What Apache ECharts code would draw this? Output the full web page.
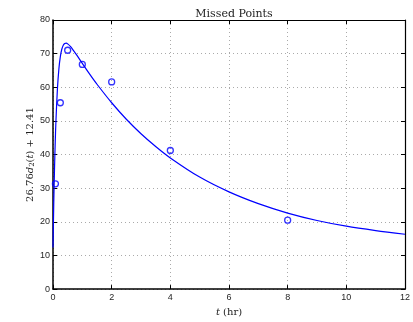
<!DOCTYPE html>
<html><head><meta charset="utf-8">
<script src="https://cdn.jsdelivr.net/npm/echarts@6/dist/echarts.min.js"></script>
<style>html,body{margin:0;padding:0;background:#fff}#c{width:413px;height:322px}</style>
</head><body><div id="c"></div>
<script>
// measured points
var pointT = [0.083, 0.25, 0.5, 1, 2, 4, 8];
var pointY = [31.3, 55.4, 71.0, 66.8, 61.6, 41.2, 20.5];
// fitted curve
var curveT = [0, 0.025, 0.05, 0.075, 0.1, 0.15, 0.2, 0.25, 0.3, 0.35, 0.4, 0.45, 0.5, 0.6, 0.7, 0.8, 1, 1.25, 1.5, 2, 2.5, 3, 3.5, 4, 5, 6, 7, 8, 9, 10, 11, 12];
var curveY = [12.4, 25.0, 35.2, 43.4, 49.9, 59.4, 65.4, 69.1, 71.3, 72.5, 73.0, 73.1, 72.9, 72.1, 70.9, 69.7, 67.1, 63.9, 60.9, 55.4, 50.5, 46.2, 42.4, 39.0, 33.3, 28.9, 25.4, 22.6, 20.4, 18.7, 17.4, 16.3];
var xTicks = [0, 2, 4, 6, 8, 10, 12];
var yTicks = [0, 10, 20, 30, 40, 50, 60, 70, 80];

var chart = echarts.init(document.getElementById('c'), null, {renderer: 'canvas'});
var sans = 'Liberation Sans';
var serif = 'DejaVu Serif';
var lbl = {color: '#262626', fontFamily: sans, fontSize: 9};
chart.setOption({
  animation: false,
  title: {text: 'Missed Points', left: 229, textAlign: 'center', top: 4,
    textStyle: {fontFamily: serif, fontWeight: 'normal', fontSize: 11, color: '#222'}},
  grid: {left: 53, right: 8, top: 20, bottom: 25},
  xAxis: [{
    type: 'value', min: 0, max: 12, interval: 2,
    name: '{i|t} (hr)', nameLocation: 'middle', nameGap: 13,
    nameTextStyle: {fontFamily: serif, fontSize: 10, color: '#222',
      rich: {i: {fontFamily: serif, fontStyle: 'italic', fontSize: 10, color: '#222'}}},
    axisLine: {onZero: false, lineStyle: {color: '#000', width: 1.5}},
    axisTick: {inside: true, length: 4, lineStyle: {color: '#000'}},
    axisLabel: Object.assign({margin: 4, formatter: function(v){return xTicks.indexOf(v) >= 0 ? String(v) : '';}}, lbl),
    splitLine: {show: true, lineStyle: {color: '#aaa', type: [1, 3], width: 1}}
  }, {
    type: 'value', min: 0, max: 12, interval: 2, position: 'top',
    axisLine: {show: true, onZero: false, lineStyle: {color: '#000', width: 1.2}},
    axisTick: {inside: true, length: 4, lineStyle: {color: '#000'}},
    axisLabel: {show: false}, splitLine: {show: false}
  }],
  yAxis: [{
    type: 'value', min: 0, max: 80, interval: 10,
    name: '26.76{i|d}{s|2}({i|t}) + 12.41', nameLocation: 'middle', nameGap: 17, nameRotate: 90,
    nameMoveOverlap: false,
    nameTextStyle: {fontFamily: serif, fontSize: 10, color: '#222',
      rich: {i: {fontFamily: serif, fontStyle: 'italic', fontSize: 10, color: '#222'},
             s: {fontFamily: serif, fontSize: 7, color: '#222', verticalAlign: 'bottom', padding: [4, 0, 0, 0]}}},
    axisLine: {onZero: false, lineStyle: {color: '#000', width: 1.5}},
    axisTick: {inside: true, length: 4, lineStyle: {color: '#000'}},
    axisLabel: Object.assign({margin: 3, formatter: function(v){return yTicks.indexOf(v) >= 0 ? String(v) : '';}}, lbl),
    splitLine: {show: true, lineStyle: {color: '#aaa', type: [1, 3], width: 1}}
  }, {
    type: 'value', min: 0, max: 80, interval: 10, position: 'right',
    axisLine: {show: true, onZero: false, lineStyle: {color: '#000', width: 1.2}},
    axisTick: {inside: true, length: 4, lineStyle: {color: '#000'}},
    axisLabel: {show: false}, splitLine: {show: false}
  }],
  series: [{
    type: 'line', data: curveT.map(function(t, i){return [t, curveY[i]];}),
    showSymbol: false, smooth: 0.3, lineStyle: {color: '#0000ff', width: 1.2}, z: 3
  }, {
    type: 'scatter', xAxisIndex: 1, yAxisIndex: 1,
    data: pointT.map(function(t, i){return [t, pointY[i]];}),
    symbol: 'circle', symbolSize: 6,
    itemStyle: {color: 'rgba(0,0,0,0)', borderColor: '#0000ff', borderWidth: 1.3}, z: 4
  }]
});
</script></body></html>
